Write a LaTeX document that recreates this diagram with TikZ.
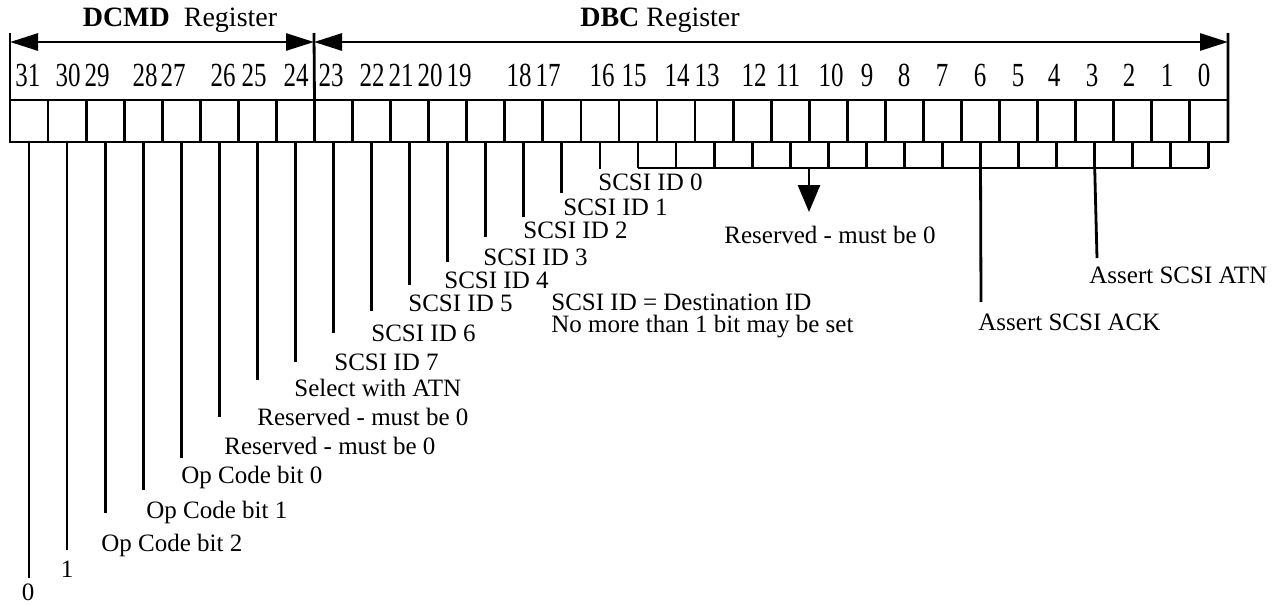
\documentclass[tikz,border=0pt]{standalone}
\usepackage{fontspec}
\setmainfont{Liberation Serif}
\usepackage{graphicx}
\usetikzlibrary{arrows.meta}

\begin{document}
\begin{tikzpicture}[x=0.5pt, y=-0.5pt, line width=1.4pt,
    cell/.style={draw, minimum width=19.03pt, minimum height=21pt,
        inner sep=0pt, outer sep=0pt},
    bitnum/.style={font=\fontsize{12.5}{14}\selectfont, inner sep=0pt, anchor=base},
    lbl/.style={font=\fontsize{12.5}{15}\selectfont, inner sep=0pt},
    regtitle/.style={font=\fontsize{14}{17}\selectfont, inner sep=0pt},
    span/.style={{Triangle[length=14pt,width=8.5pt]}-{Triangle[length=14pt,width=8.5pt]}},
    ]
    \useasboundingbox (0,0) rectangle (1276,605);

    % the 32 bit cells
    \foreach \n in {0,...,31} {
        \node[cell] (b\n) at ({10+(31-\n+0.5)*38.06},121) {};
    }

    % bit numbers
    \foreach \n/\x in {31/28,30/68,29/97,28/145,27/173,26/223,25/254,24/296,
        23/331,22/372,21/401,20/430,19/459,18/519,17/548,16/602,
        15/634,14/677,13/707,12/754,11/788,10/831,9/867,8/904,
        7/942,6/980,5/1018,4/1054,3/1092,2/1129,1/1167,0/1204} {
        \node[bitnum] (n\n) at (\x,86) {\scalebox{1}[1.35]{\n}};
    }

    % register spans
    \coordinate (lt) at (10,33);
    \coordinate (mt) at (314,33);
    \coordinate (rt) at (1228,33);
    \draw (lt) -- (b31.south west);
    \draw (rt) -- (b0.south east);
    \draw (mt) -- (b24.north east);

    \coordinate (dcmdL) at (10,42);
    \coordinate (dcmdR) at (314,42);
    \coordinate (dbcR) at (1228,42);
    \draw[span] (dcmdL) -- (dcmdR);
    \draw[span] (dcmdR) -- (dbcR);

    \node[regtitle] (dcmd) at (180,20) {\textbf{DCMD}\ \ Register};
    \node[regtitle] (dbc) at (660,20) {\textbf{DBC} Register};

    % leader lines, bits 31..16
    \foreach \n/\y in {31/578,30/550,29/513,28/490,27/458,26/417,25/380,24/362,
        23/333,22/311,21/285,20/262,19/237,18/217,17/193,16/169} {
        \coordinate (e\n) at ({10+(31-\n+0.5)*38.06},\y);
        \draw (b\n.south) -- (e\n);
    }

    \node[lbl] (l31) at (28,592) {0};
    \node[lbl] (l30) at (67,569) {1};
    \node[lbl, anchor=west] (l29) at (100,545) {Op Code bit 2};
    \node[lbl, anchor=west] (l28) at (145,512) {Op Code bit 1};
    \node[lbl, anchor=west] (l27) at (180,477) {Op Code bit 0};
    \node[lbl, anchor=west] (l26) at (223,446) {Reserved - must be 0};
    \node[lbl, anchor=west] (l25) at (256,417) {Reserved - must be 0};
    \node[lbl, anchor=west] (l24) at (293,388) {Select with ATN};
    \node[lbl, anchor=west] (l23) at (333,362) {SCSI ID 7};
    \node[lbl, anchor=west] (l22) at (370,333) {SCSI ID 6};
    \node[lbl, anchor=west] (l21) at (407,303) {SCSI ID 5};
    \node[lbl, anchor=west] (l20) at (443,280) {SCSI ID 4};
    \node[lbl, anchor=west] (l19) at (482,257) {SCSI ID 3};
    \node[lbl, anchor=west] (l18) at (522,230) {SCSI ID 2};
    \node[lbl, anchor=west] (l17) at (562,207) {SCSI ID 1};
    \node[lbl, anchor=west] (l16) at (597,182) {SCSI ID 0};

    \node[lbl, anchor=west] (idnote) at (550,302) {SCSI ID = Destination ID};
    \node[lbl, anchor=west] (idnote2) at (550,327) {No more than 1 bit may be set};

    % comb under bits 15..0
    \foreach \n in {0,...,15} {
        \coordinate (c\n) at ({10+(31-\n+0.5)*38.06},168);
        \draw (b\n.south) -- (c\n);
    }
    \draw (c15) -- (c0);

    \coordinate (resTop) at (809,168);
    \coordinate (resTip) at (809,212);
    \draw[-{Triangle[length=13.5pt,width=11pt]}] (resTop) -- (resTip);
    \node[lbl] (res) at (830,235) {Reserved - must be 0};

    \coordinate (ackEnd) at (981,302);
    \draw (c6) -- (ackEnd);
    \node[lbl, anchor=west] (ack) at (977,322) {Assert SCSI ACK};

    \coordinate (atnEnd) at (1097,258);
    \draw (c3) -- (atnEnd);
    \node[lbl, anchor=west] (atn) at (1088,275) {Assert SCSI ATN};
\end{tikzpicture}
\end{document}
